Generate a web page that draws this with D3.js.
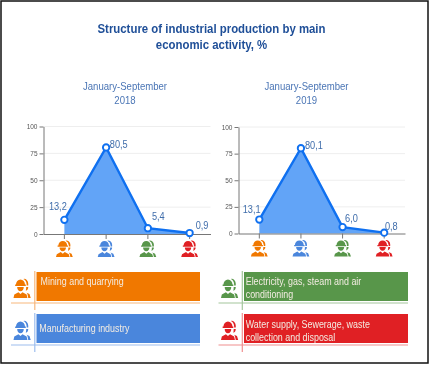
<!DOCTYPE html>
<html>
<head>
<meta charset="utf-8">
<script src="https://cdn.jsdelivr.net/npm/d3@7"></script>
<style>
  html, body { margin: 0; padding: 0; background: #fff; }
  svg { display: block; filter: blur(0.45px); font-family: "Liberation Sans", Arial, sans-serif; }
</style>
</head>
<body>
<svg width="430" height="365"></svg>
<script>
// chart data
var activities = ['Mining and quarrying', 'Manufacturing industry', 'Electricity, gas, steam and air conditioning', 'Water supply, Sewerage, waste collection and disposal'];
var activityColors = ['#f07800', '#4a86dc', '#58964a', '#e02024'];
var activityLines = ['#f7b77c', '#9dbdee', '#a3c69b', '#f08f90'];
var values2018 = [13.2, 80.5, 5.4, 0.9];
var values2019 = [13.1, 80.1, 6.0, 0.8];
var yTicks = [0, 25, 50, 75, 100];
var titleLines = ['Structure of industrial production by main', 'economic activity, %'];
var periodLabel = 'January-September';

// worker with hard hat and a second one behind him, 21x22
var workerIcon = 'M3 8A5.500 5.500 0 0 1 14 8H15V9.500H2V8Z' +
  'M4.500 10.500H12.500C12.500 13 11 15 8.500 15C6 15 4.500 13 4.500 10.500Z' +
  'M0 22L1 18.500L6 16L8.500 18L11 16L16 18.500L17 22Z' +
  'M12 2A5 5 0 0 1 18 7V9H16V7.500A6.500 6.500 0 0 0 12 2Z' +
  'M15.500 10.500H18C18 12.500 17 14 15 14.500C15.300 13.500 15.500 12 15.500 10.500Z' +
  'M16 16.500L19.500 18L21 22H18L17 18Z';

var svg = d3.select('svg');
var titleColor = '#1f4f98';
var subColor = '#4a75b5';

// the source text is narrower than the installed font, so squeeze it by a ratio
function squeeze(selection, ratio) {
  selection.each(function () {
    d3.select(this)
      .attr('textLength', this.getComputedTextLength() * ratio)
      .attr('lengthAdjust', 'spacingAndGlyphs');
  });
}

// frame round the picture
svg.append('rect')
  .attr('x', 1)
  .attr('y', 1)
  .attr('width', 427)
  .attr('height', 362)
  .attr('fill', 'none')
  .attr('stroke', '#111')
  .attr('stroke-width', 1.5);

// main title
svg.selectAll('.title')
  .data(titleLines)
  .enter()
  .append('text')
  .attr('class', 'title')
  .attr('x', 211.5)
  .attr('y', function (d, i) { return 32.7 + i * 16; })
  .attr('text-anchor', 'middle')
  .attr('font-size', '12px')
  .attr('font-weight', 'bold')
  .attr('fill', titleColor)
  .text(function (d) { return d; })
  .call(squeeze, 0.95);

function createAreaChart(values, year, options) {
  var margin = options.margin;
  var g = svg.append('g');

  var xScale = d3.scaleBand().domain(d3.range(values.length)).range([margin.left, margin.right]);
  var yScale = d3.scaleLinear().domain([0, 100]).range([margin.bottom, margin.top]);
  var xCenter = function (i) { return xScale(i) + xScale.bandwidth() / 2; };

  // period heading
  g.append('text')
    .attr('x', options.headX)
    .attr('y', 90)
    .attr('text-anchor', 'middle')
    .attr('font-size', '11px')
    .attr('fill', subColor)
    .text(periodLabel)
    .call(squeeze, 0.87);
  g.append('text')
    .attr('x', options.headX)
    .attr('y', 104)
    .attr('text-anchor', 'middle')
    .attr('font-size', '11px')
    .attr('fill', subColor)
    .text(year)
    .call(squeeze, 0.87);

  // grid
  g.selectAll('.grid')
    .data(yTicks.slice(1))
    .enter()
    .append('line')
    .attr('class', 'grid')
    .attr('x1', margin.left)
    .attr('x2', margin.right)
    .attr('y1', function (d) { return yScale(d); })
    .attr('y2', function (d) { return yScale(d); })
    .attr('stroke', '#eeeeee');

  // area and line
  var area = d3.area()
    .x(function (d, i) { return xCenter(i); })
    .y0(yScale(0))
    .y1(function (d) { return yScale(d); });
  var line = d3.line()
    .x(function (d, i) { return xCenter(i); })
    .y(function (d) { return yScale(d); });

  g.append('path').attr('d', area(values)).attr('fill', '#62a4f7');
  g.append('path')
    .attr('d', line(values))
    .attr('fill', 'none')
    .attr('stroke', '#0f70f0')
    .attr('stroke-width', 2.4);

  // y axis
  var yAxis = g.append('g')
    .attr('transform', 'translate(' + margin.left + ',0)')
    .call(d3.axisLeft(yScale).tickValues(yTicks).tickSize(4).tickSizeOuter(0));
  yAxis.selectAll('text').attr('font-size', '6.5px').attr('font-family', 'inherit').attr('fill', '#555').attr('dx', '1px');
  yAxis.selectAll('line').attr('stroke', '#777');
  yAxis.select('.domain').attr('stroke', '#777');

  // x axis
  var xAxis = g.append('g')
    .attr('transform', 'translate(0,' + margin.bottom + ')')
    .call(d3.axisBottom(xScale).tickSize(5).tickSizeOuter(0).tickFormat(''));
  xAxis.selectAll('line').attr('stroke', '#777');
  xAxis.select('.domain').attr('stroke', '#777');

  // icons under the axis
  g.selectAll('.icon')
    .data(values)
    .enter()
    .append('path')
    .attr('class', 'icon')
    .attr('d', workerIcon)
    .attr('fill', function (d, i) { return activityColors[i]; })
    .attr('transform', function (d, i) {
      return 'translate(' + (xCenter(i) - 8.4) + ',' + (margin.bottom + 5) + ') scale(0.8,0.82)';
    });

  // points
  g.selectAll('.point')
    .data(values)
    .enter()
    .append('circle')
    .attr('class', 'point')
    .attr('cx', function (d, i) { return xCenter(i); })
    .attr('cy', function (d) { return yScale(d); })
    .attr('r', 3.2)
    .attr('fill', '#fff')
    .attr('stroke', '#0f70f0')
    .attr('stroke-width', 1.9);

  // value labels
  g.selectAll('.label')
    .data(values)
    .enter()
    .append('text')
    .attr('class', 'label')
    .attr('x', function (d, i) { return xCenter(i) + options.labelDx[i]; })
    .attr('y', function (d, i) { return yScale(d) + options.labelDy[i]; })
    .attr('font-size', '11.5px')
    .attr('fill', '#3f6dab')
    .text(function (d) { return d.toFixed(1).replace('.', ','); })
    .call(squeeze, 0.8);
}

createAreaChart(values2018, '2018', {
  margin: { left: 43.5, right: 210.5, top: 126.5, bottom: 234 },
  headX: 125,
  labelDx: [-15.5, 3.7, 4, 6],
  labelDy: [-10, 0.5, -8, -4]
});
createAreaChart(values2019, '2019', {
  margin: { left: 238.5, right: 405, top: 127, bottom: 233.500 },
  headX: 306.5,
  labelDx: [-16.6, 4, 2.5, 0.7],
  labelDy: [-7, 1, -5.5, -2.5]
});

// legend
var legendX = [36.5, 36.5, 244, 244];
var legendRight = [200, 200, 408, 408];
var legendY = [272, 314, 272, 314];
var legendText = [
  ['Mining and quarrying'],
  ['Manufacturing industry'],
  ['Electricity, gas, steam and air', 'conditioning'],
  ['Water supply, Sewerage, waste', 'collection and disposal']
];
var legendTextDx = [4, 2.8, 1.7, 1.7];
var legendTextDy = [13, 17.7, 13, 14];

activities.forEach(function (name, i) {
  var x = legendX[i], y = legendY[i], right = legendRight[i];
  var g = svg.append('g');
  g.append('rect')
    .attr('x', x)
    .attr('y', y)
    .attr('width', right - x)
    .attr('height', 29)
    .attr('fill', activityColors[i]);
  g.append('line')
    .attr('x1', x - 25.500)
    .attr('x2', right)
    .attr('y1', y + 31)
    .attr('y2', y + 31)
    .attr('stroke', activityLines[i])
    .attr('stroke-width', 1.2);
  g.append('line')
    .attr('x1', x - 1.7)
    .attr('x2', x - 1.7)
    .attr('y1', y - 1)
    .attr('y2', y + 38)
    .attr('stroke', activityLines[i])
    .attr('stroke-width', 1.2);
  g.append('path')
    .attr('d', workerIcon)
    .attr('fill', activityColors[i])
    .attr('transform', 'translate(' + (x - 23) + ',' + (y + 5) + ') scale(0.82,0.95)');
  legendText[i].forEach(function (t, j) {
    g.append('text')
      .attr('x', x + legendTextDx[i])
      .attr('y', y + legendTextDy[i] + j * 13)
      .attr('font-size', '10px')
      .attr('fill', '#f3ece2')
      .text(t)
      .call(squeeze, 0.89);
  });
});
</script>
</body>
</html>
